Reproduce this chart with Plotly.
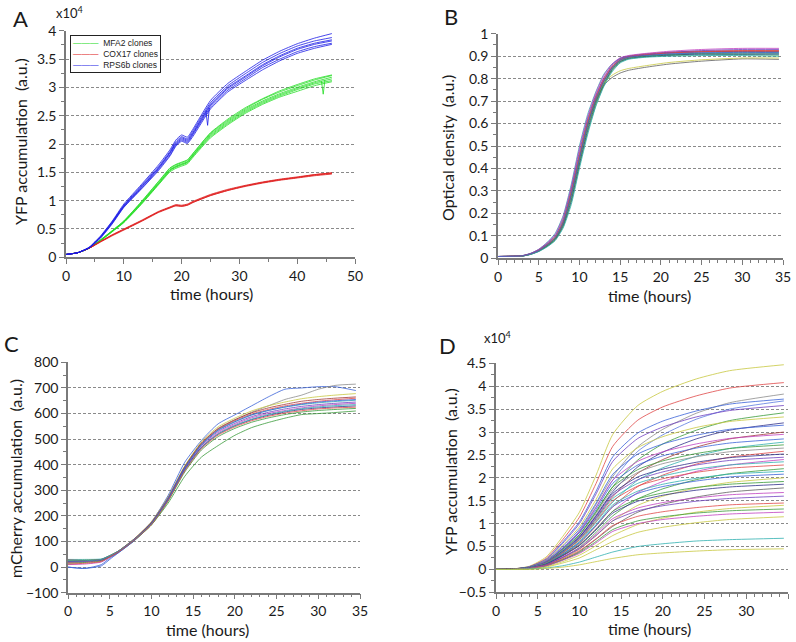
import plotly.graph_objects as go

# ---------------- Panel A : YFP accumulation (x10^4) of three promoter clones ----------------
time_A = [0, 2, 4, 6, 8, 10, 13, 16, 18, 19, 20, 21, 22, 25, 28, 31, 34, 37, 40, 43, 46]
mfa2_clones = [
    [0.05, 0.08, 0.16, 0.30, 0.46, 0.62, 0.95, 1.30, 1.54, 1.60, 1.64, 1.68, 1.80, 2.15, 2.38, 2.58, 2.74, 2.87, 2.98, 3.08, 3.15],
    [0.05, 0.08, 0.16, 0.31, 0.47, 0.64, 0.97, 1.33, 1.57, 1.63, 1.67, 1.71, 1.83, 2.19, 2.42, 2.62, 2.79, 2.92, 3.03, 3.13, 3.21],
    [0.05, 0.08, 0.16, 0.29, 0.45, 0.61, 0.93, 1.28, 1.51, 1.57, 1.61, 1.65, 1.77, 2.11, 2.34, 2.54, 2.70, 2.83, 2.93, 3.03, 3.10],
    [0.05, 0.08, 0.16, 0.30, 0.46, 0.63, 0.96, 1.31, 1.55, 1.61, 1.65, 1.69, 1.81, 2.17, 2.40, 2.60, 2.76, 2.89, 3.00, 3.10, 3.18],
    [0.05, 0.08, 0.16, 0.30, 0.46, 0.62, 0.94, 1.29, 1.53, 1.59, 1.63, 1.67, 1.79, 2.13, 2.36, 2.56, 2.72, 2.85, 2.96, 3.06, 3.12],
    [0.05, 0.08, 0.16, 0.31, 0.47, 0.64, 0.98, 1.34, 1.58, 1.64, 1.68, 1.72, 1.84, 2.20, 2.44, 2.64, 2.80, 2.94, 3.05, 3.15, 3.22],
]
cox17_clones = [
    [0.05, 0.08, 0.16, 0.28, 0.39, 0.49, 0.64, 0.80, 0.88, 0.92, 0.91, 0.93, 0.98, 1.10, 1.19, 1.26, 1.32, 1.37, 1.41, 1.45, 1.48],
    [0.05, 0.08, 0.16, 0.28, 0.40, 0.50, 0.65, 0.81, 0.89, 0.93, 0.92, 0.94, 0.99, 1.11, 1.20, 1.27, 1.33, 1.38, 1.42, 1.46, 1.49],
    [0.05, 0.08, 0.16, 0.27, 0.38, 0.48, 0.63, 0.79, 0.87, 0.91, 0.90, 0.92, 0.97, 1.09, 1.18, 1.25, 1.31, 1.36, 1.40, 1.44, 1.47],
    [0.05, 0.08, 0.16, 0.28, 0.39, 0.49, 0.64, 0.80, 0.88, 0.91, 0.90, 0.92, 0.97, 1.09, 1.18, 1.26, 1.32, 1.37, 1.41, 1.46, 1.49],
]
rps6b_clones = [
    [0.05, 0.08, 0.17, 0.36, 0.62, 0.91, 1.24, 1.58, 1.85, 2.02, 2.11, 2.07, 2.21, 2.70, 3.00, 3.20, 3.40, 3.56, 3.69, 3.78, 3.84],
    [0.05, 0.08, 0.18, 0.38, 0.64, 0.94, 1.28, 1.63, 1.90, 2.07, 2.16, 2.12, 2.27, 2.77, 3.07, 3.28, 3.48, 3.64, 3.77, 3.87, 3.95],
    [0.05, 0.08, 0.17, 0.35, 0.60, 0.89, 1.21, 1.55, 1.81, 1.98, 2.07, 2.03, 2.17, 2.65, 2.95, 3.15, 3.35, 3.50, 3.63, 3.72, 3.78],
    [0.05, 0.08, 0.17, 0.37, 0.63, 0.92, 1.26, 1.60, 1.87, 2.04, 2.13, 2.09, 2.24, 2.73, 3.03, 3.24, 3.44, 3.60, 3.73, 3.82, 3.88],
    [0.05, 0.08, 0.17, 0.36, 0.61, 0.90, 1.23, 1.57, 1.84, 2.00, 2.09, 2.05, 2.19, 2.68, 2.98, 3.18, 3.38, 3.54, 3.67, 3.76, 3.82],
    [0.05, 0.08, 0.16, 0.34, 0.59, 0.88, 1.20, 1.53, 1.79, 1.96, 2.05, 2.01, 2.14, 2.62, 2.92, 3.12, 3.31, 3.47, 3.60, 3.69, 3.76],
]
spike_rps6b_t = [24.2, 24.5, 24.8]
spike_rps6b_y = [2.58, 2.33, 2.64]
spike_mfa2_t = [44.2, 44.5, 44.8]
spike_mfa2_y = [3.11, 2.88, 3.13]
legend_names = ["MFA2 clones", "COX17 clones", "RPS6b clones"]

# ---------------- Panel B : optical density ----------------
time_B = [0, 3, 4, 5, 6, 7, 8, 9, 10, 11, 12, 13, 14, 15, 16, 18, 21, 25, 30, 34.5]
od_wells = [
    [0.008, 0.011, 0.020, 0.035, 0.060, 0.090, 0.160, 0.290, 0.450, 0.600, 0.710, 0.790, 0.850, 0.885, 0.898, 0.905, 0.913, 0.918, 0.920, 0.920],
    [0.008, 0.010, 0.018, 0.031, 0.052, 0.080, 0.140, 0.250, 0.410, 0.560, 0.680, 0.770, 0.835, 0.873, 0.888, 0.897, 0.903, 0.906, 0.907, 0.905],
    [0.008, 0.011, 0.020, 0.036, 0.062, 0.095, 0.165, 0.300, 0.460, 0.610, 0.720, 0.800, 0.855, 0.888, 0.900, 0.910, 0.918, 0.923, 0.925, 0.925],
    [0.008, 0.012, 0.022, 0.040, 0.070, 0.110, 0.190, 0.330, 0.500, 0.640, 0.740, 0.820, 0.865, 0.890, 0.897, 0.903, 0.908, 0.910, 0.910, 0.910],
    [0.008, 0.012, 0.022, 0.040, 0.068, 0.105, 0.185, 0.320, 0.490, 0.630, 0.735, 0.815, 0.865, 0.893, 0.903, 0.912, 0.922, 0.930, 0.935, 0.935],
    [0.008, 0.010, 0.018, 0.032, 0.054, 0.083, 0.145, 0.260, 0.420, 0.570, 0.690, 0.775, 0.840, 0.876, 0.890, 0.898, 0.905, 0.910, 0.910, 0.910],
    [0.008, 0.011, 0.020, 0.035, 0.060, 0.090, 0.160, 0.290, 0.450, 0.600, 0.700, 0.770, 0.805, 0.825, 0.837, 0.850, 0.865, 0.878, 0.888, 0.886],
    [0.008, 0.011, 0.020, 0.036, 0.062, 0.095, 0.170, 0.300, 0.460, 0.610, 0.710, 0.780, 0.815, 0.835, 0.845, 0.857, 0.872, 0.884, 0.892, 0.892],
    [0.008, 0.011, 0.019, 0.034, 0.058, 0.088, 0.155, 0.280, 0.440, 0.590, 0.705, 0.790, 0.848, 0.882, 0.895, 0.905, 0.915, 0.920, 0.922, 0.922],
    [0.008, 0.010, 0.018, 0.032, 0.055, 0.085, 0.150, 0.270, 0.430, 0.580, 0.695, 0.780, 0.842, 0.878, 0.892, 0.900, 0.908, 0.913, 0.915, 0.915],
    [0.008, 0.012, 0.021, 0.038, 0.065, 0.100, 0.175, 0.310, 0.475, 0.620, 0.725, 0.805, 0.860, 0.890, 0.900, 0.908, 0.917, 0.925, 0.930, 0.930],
    [0.008, 0.010, 0.017, 0.030, 0.050, 0.078, 0.135, 0.240, 0.400, 0.550, 0.675, 0.765, 0.830, 0.870, 0.886, 0.895, 0.900, 0.903, 0.903, 0.900],
    [0.008, 0.011, 0.020, 0.035, 0.060, 0.092, 0.162, 0.295, 0.455, 0.605, 0.715, 0.795, 0.852, 0.884, 0.897, 0.906, 0.914, 0.920, 0.924, 0.924],
    [0.008, 0.011, 0.020, 0.034, 0.059, 0.090, 0.158, 0.285, 0.445, 0.595, 0.708, 0.788, 0.848, 0.882, 0.895, 0.903, 0.910, 0.915, 0.917, 0.916],
]

# ---------------- Panel C : mCherry accumulation ----------------
time_C = [0, 2, 4, 5, 6, 8, 10, 12, 14, 16, 18, 20, 22, 24, 26, 28, 30, 32, 34.5]
mcherry_wells = [
    [0, -5, 10, 35, 55, 105, 175, 280, 410, 495, 560, 595, 630, 665, 695, 700, 705, 705, 690],
    [25, 25, 30, 45, 62, 112, 178, 275, 395, 485, 540, 575, 605, 630, 655, 672, 695, 710, 715],
    [25, 25, 30, 42, 58, 105, 165, 250, 355, 430, 475, 515, 545, 565, 582, 596, 600, 604, 610],
    [25, 28, 30, 45, 62, 112, 175, 272, 395, 490, 548, 582, 610, 630, 645, 658, 666, 672, 678],
    [18, 20, 26, 40, 58, 108, 168, 265, 388, 482, 538, 572, 598, 616, 630, 640, 648, 654, 660],
    [30, 30, 32, 45, 62, 110, 172, 268, 390, 480, 535, 568, 594, 612, 625, 635, 642, 647, 652],
    [10, 12, 20, 38, 58, 108, 168, 262, 380, 470, 525, 557, 583, 600, 612, 622, 630, 635, 640],
    [22, 24, 28, 42, 60, 110, 172, 265, 382, 468, 520, 552, 576, 593, 606, 616, 622, 626, 630],
    [15, 18, 24, 40, 58, 106, 165, 258, 372, 458, 510, 542, 566, 583, 596, 606, 612, 616, 620],
    [28, 26, 30, 44, 62, 112, 174, 270, 392, 485, 542, 576, 603, 622, 636, 648, 655, 660, 665],
    [20, 22, 28, 42, 60, 110, 170, 265, 385, 475, 530, 562, 588, 605, 618, 628, 635, 640, 645],
    [0, -5, 5, 30, 55, 105, 170, 268, 388, 478, 535, 568, 595, 612, 626, 637, 645, 650, 655],
    [25, 25, 30, 44, 61, 110, 168, 260, 378, 466, 520, 553, 578, 596, 609, 619, 626, 631, 635],
    [12, 15, 22, 40, 58, 107, 166, 260, 376, 463, 516, 548, 572, 589, 602, 611, 618, 622, 625],
]

# ---------------- Panel D : YFP accumulation (x10^4), library of promoters ----------------
time_D = [0, 2, 4, 6, 8, 10, 12, 14, 17, 20, 24, 28, 34.5]
yfp_wells = [
    [0, 0.01, 0.07, 0.27, 0.72, 1.25, 2.06, 2.95, 3.58, 3.89, 4.16, 4.34, 4.47],
    [0, 0.01, 0.06, 0.24, 0.65, 1.14, 1.88, 2.69, 3.26, 3.55, 3.79, 3.96, 4.08],
    [0, 0.01, 0.05, 0.17, 0.46, 0.84, 1.42, 2.03, 2.68, 3.06, 3.41, 3.64, 3.83],
    [0, 0.01, 0.06, 0.22, 0.60, 1.04, 1.71, 2.46, 2.98, 3.24, 3.46, 3.61, 3.72],
    [0, 0.01, 0.04, 0.17, 0.44, 0.81, 1.36, 1.95, 2.58, 2.94, 3.28, 3.50, 3.68],
    [0, 0.01, 0.05, 0.21, 0.57, 1.00, 1.65, 2.36, 2.86, 3.11, 3.33, 3.47, 3.58],
    [0, 0.01, 0.04, 0.15, 0.41, 0.75, 1.27, 1.81, 2.39, 2.74, 3.04, 3.25, 3.42],
    [0, 0.01, 0.05, 0.20, 0.53, 0.93, 1.53, 2.20, 2.66, 2.90, 3.10, 3.23, 3.33],
    [0, 0.01, 0.04, 0.14, 0.38, 0.70, 1.18, 1.70, 2.24, 2.56, 2.85, 3.04, 3.20],
    [0, 0.01, 0.05, 0.19, 0.50, 0.88, 1.45, 2.08, 2.52, 2.74, 2.93, 3.06, 3.15],
    [0, 0.01, 0.04, 0.14, 0.36, 0.66, 1.11, 1.59, 2.10, 2.40, 2.67, 2.85, 3.00],
    [0, 0.01, 0.04, 0.18, 0.47, 0.83, 1.36, 1.95, 2.36, 2.57, 2.74, 2.86, 2.95],
    [0, 0.01, 0.04, 0.17, 0.46, 0.80, 1.31, 1.88, 2.28, 2.48, 2.65, 2.76, 2.85],
    [0, 0.01, 0.03, 0.13, 0.33, 0.61, 1.03, 1.47, 1.95, 2.22, 2.47, 2.64, 2.78],
    [0, 0.01, 0.04, 0.16, 0.44, 0.76, 1.25, 1.80, 2.18, 2.37, 2.53, 2.64, 2.72],
    [0, 0.01, 0.04, 0.16, 0.42, 0.74, 1.22, 1.75, 2.12, 2.31, 2.46, 2.57, 2.65],
    [0, 0.01, 0.03, 0.12, 0.31, 0.57, 0.95, 1.37, 1.81, 2.06, 2.30, 2.45, 2.58],
    [0, 0.01, 0.04, 0.15, 0.40, 0.71, 1.16, 1.66, 2.02, 2.19, 2.34, 2.44, 2.52],
    [0, 0.00, 0.04, 0.15, 0.39, 0.69, 1.13, 1.62, 1.96, 2.13, 2.28, 2.38, 2.45],
    [0, 0.00, 0.03, 0.11, 0.29, 0.53, 0.89, 1.27, 1.68, 1.92, 2.14, 2.28, 2.40],
    [0, 0.00, 0.04, 0.14, 0.38, 0.66, 1.08, 1.55, 1.88, 2.04, 2.19, 2.28, 2.35],
    [0, 0.00, 0.03, 0.14, 0.36, 0.64, 1.05, 1.50, 1.82, 1.98, 2.12, 2.21, 2.28],
    [0, 0.00, 0.03, 0.10, 0.26, 0.48, 0.81, 1.17, 1.54, 1.76, 1.96, 2.09, 2.20],
    [0, 0.00, 0.03, 0.13, 0.34, 0.60, 0.98, 1.41, 1.71, 1.86, 1.99, 2.08, 2.14],
    [0, 0.00, 0.03, 0.12, 0.33, 0.58, 0.96, 1.37, 1.66, 1.81, 1.93, 2.02, 2.08],
    [0, 0.00, 0.02, 0.09, 0.24, 0.44, 0.74, 1.06, 1.40, 1.60, 1.78, 1.90, 2.00],
    [0, 0.00, 0.03, 0.12, 0.31, 0.54, 0.88, 1.27, 1.54, 1.67, 1.79, 1.86, 1.92],
    [0, 0.00, 0.03, 0.11, 0.30, 0.52, 0.86, 1.23, 1.49, 1.62, 1.73, 1.80, 1.86],
    [0, 0.00, 0.02, 0.08, 0.21, 0.39, 0.66, 0.94, 1.25, 1.42, 1.58, 1.69, 1.78],
    [0, 0.00, 0.03, 0.10, 0.27, 0.47, 0.77, 1.11, 1.34, 1.46, 1.56, 1.63, 1.68],
    [0, 0.00, 0.02, 0.10, 0.26, 0.45, 0.74, 1.06, 1.28, 1.39, 1.49, 1.55, 1.60],
    [0, 0.00, 0.02, 0.09, 0.23, 0.41, 0.67, 0.96, 1.16, 1.26, 1.35, 1.41, 1.45],
    [0, 0.00, 0.02, 0.06, 0.17, 0.31, 0.52, 0.74, 0.98, 1.12, 1.25, 1.33, 1.40],
    [0, 0.00, 0.02, 0.08, 0.21, 0.37, 0.61, 0.87, 1.06, 1.15, 1.23, 1.28, 1.32],
    [0, 0.00, 0.02, 0.08, 0.20, 0.35, 0.58, 0.83, 1.00, 1.09, 1.16, 1.21, 1.25],
    [0, 0.00, 0.01, 0.05, 0.14, 0.25, 0.43, 0.61, 0.81, 0.92, 1.02, 1.09, 1.15],
    [0, 0.00, 0.01, 0.03, 0.08, 0.16, 0.27, 0.38, 0.50, 0.56, 0.62, 0.65, 0.68],
    [0, 0.00, 0.00, 0.02, 0.05, 0.10, 0.17, 0.24, 0.32, 0.36, 0.40, 0.43, 0.45],
]

# ---------------- styles ----------------
FONT = "Lato, 'Open Sans', sans-serif"
GROUP_COLORS = ["#22dd22", "#e02020", "#1a1ae6"]
C_BLUE, C_GREEN, C_RED, C_CYAN = "#3a62d8", "#3a9a3a", "#e04848", "#30b0b0"
C_MAG, C_YEL, C_GREY, C_NAVY = "#c040c0", "#c8c840", "#8c8c8c", "#30308a"
C_DRED, C_PURP, C_DGREY = "#a03838", "#7040c0", "#606060"
colors_B = [C_BLUE, C_GREEN, C_RED, C_CYAN, C_MAG, C_NAVY, C_DGREY, C_YEL,
            C_DRED, C_GREEN, C_PURP, C_CYAN, C_RED, C_BLUE]
colors_C = [C_BLUE, C_GREY, C_GREEN, C_YEL, C_RED, C_CYAN, C_MAG, C_NAVY,
            C_GREEN, C_DRED, C_PURP, C_BLUE, C_CYAN, C_RED]
colors_D = [C_YEL, C_RED, C_GREY, C_BLUE, "#5a7ae0", C_PURP, C_GREEN, C_YEL,
            C_NAVY, C_BLUE, C_DRED, C_MAG, C_BLUE, C_CYAN, C_GREEN, C_GREY,
            C_RED, C_NAVY, C_PURP, C_MAG, C_CYAN, C_RED, C_GREEN, C_CYAN,
            C_BLUE, C_YEL, C_GREEN, C_NAVY, C_DGREY, C_MAG, C_PURP, C_RED,
            C_YEL, C_GREEN, C_MAG, C_YEL, C_CYAN, C_YEL]

fig = go.Figure()


def add_lines(t, series, colors, xa, ya, width=0.8, smoothing=0.6):
    for i, ys in enumerate(series):
        fig.add_trace(go.Scatter(
            x=t, y=ys, mode="lines", xaxis=xa, yaxis=ya,
            line=dict(color=colors[i % len(colors)], width=width, shape="spline", smoothing=smoothing),
            showlegend=False, hoverinfo="skip"))


# Panel A
for grp, clr in zip([mfa2_clones, cox17_clones, rps6b_clones], GROUP_COLORS):
    add_lines(time_A, grp, [clr], "x", "y", width=0.8, smoothing=0.45)
fig.add_trace(go.Scatter(x=spike_rps6b_t, y=spike_rps6b_y, mode="lines", xaxis="x", yaxis="y",
                         line=dict(color=GROUP_COLORS[2], width=0.8), showlegend=False, hoverinfo="skip"))
fig.add_trace(go.Scatter(x=spike_mfa2_t, y=spike_mfa2_y, mode="lines", xaxis="x", yaxis="y",
                         line=dict(color=GROUP_COLORS[0], width=0.8), showlegend=False, hoverinfo="skip"))

# Panels B, C, D
add_lines(time_B, od_wells, colors_B, "x2", "y2")
add_lines(time_C, mcherry_wells, colors_C, "x3", "y3")
add_lines(time_D, yfp_wells, colors_D, "x4", "y4")

W, H = 796, 642


def xd(a, b):
    return [a / W, b / W]


def yd(top, bottom):
    return [1 - bottom / H, 1 - top / H]


AXC = "#7a7a7a"
TICKF = dict(family=FONT, size=14, color="#1a1a1a")


def xaxis(domain, anchor, rng, dtick, minor_dtick):
    return dict(domain=domain, anchor=anchor, range=rng, dtick=dtick, tick0=0,
                showline=True, linecolor=AXC, linewidth=1.5, ticks="outside",
                ticklen=5, tickwidth=1.2, tickcolor=AXC, showgrid=False, zeroline=False,
                tickfont=TICKF, automargin=False,
                minor=dict(dtick=minor_dtick, ticks="outside", ticklen=3, tickcolor=AXC, showgrid=False))


def yaxis(domain, anchor, rng, dtick, minor_dtick):
    return dict(domain=domain, anchor=anchor, range=rng, dtick=dtick, tick0=0,
                showline=True, linecolor=AXC, linewidth=1.5, ticks="outside",
                ticklen=5, tickwidth=1.2, tickcolor=AXC, showgrid=True, gridcolor="#8a8a8a",
                gridwidth=1, griddash="3px,2px", zeroline=False, tickfont=TICKF, automargin=False,
                minor=dict(dtick=minor_dtick, ticks="outside", ticklen=3, tickcolor=AXC, showgrid=False))


fig.update_layout(
    width=W, height=H, margin=dict(l=0, r=0, t=0, b=0),
    paper_bgcolor="white", plot_bgcolor="white", showlegend=False,
    xaxis=xaxis(xd(66, 355), "y", [0, 50], 10, 5),
    yaxis=yaxis(yd(30.7, 257.3), "x", [0, 4.001], 0.5, 0.25),
    xaxis2=xaxis(xd(498, 783), "y2", [0, 35], 5, 1),
    yaxis2=yaxis(yd(33.7, 258.3), "x2", [0, 1.0003], 0.1, 0.05),
    xaxis3=xaxis(xd(68, 360), "y3", [0, 35], 5, 1),
    yaxis3=yaxis(yd(362.3, 592.7), "x3", [-100, 800.3], 100, 50),
    xaxis4=xaxis(xd(496, 788), "y4", [0, 35], 5, 1),
    yaxis4=yaxis(yd(363.3, 592.3), "x4", [-0.5, 4.5015], 0.5, 0.25),
)

ann = []


def text(x, y, s, size, angle=0, xanchor="center", family=FONT, **kw):
    ann.append(dict(x=x / W, y=1 - y / H, xref="paper", yref="paper", text=s, showarrow=False,
                    textangle=angle, xanchor=xanchor, yanchor=kw.pop("yanchor", "middle"),
                    font=dict(family=family, size=size, color="#1a1a1a"), **kw))


# panel letters
text(20, 18, "A", 22)
text(451, 17, "B", 22)
text(11, 343, "C", 22)
text(447, 345, "D", 22)
# multipliers
text(54, 12, "x10<sup>4</sup>", 13, xanchor="left")
text(482, 337, "x10<sup>4</sup>", 13, xanchor="left")
# axis titles
text(20, 142, "YFP accumulation  (a.u.)", 16, angle=-90)
text(211, 293, "time (hours)", 16)
text(447, 148, "Optical density  (a.u.)", 16, angle=-90)
text(649, 295, "time (hours)", 16)
text(15, 479, "mCherry accumulation  (a.u.)", 16, angle=-90)
text(207, 629, "time (hours)", 16)
text(450, 471, "YFP accumulation  (a.u.)", 16, angle=-90)
text(649, 628, "time (hours)", 16)

# legend box of panel A
legend_lines = "<br>".join(
    "<span style='color:%s'>\u2014\u2014\u2014</span><span style='color:#222222'>  %s</span>" % (c, n)
    for c, n in zip(GROUP_COLORS, legend_names))
text(70, 35, legend_lines, 8.5, xanchor="left", yanchor="top",
     family="Liberation Sans, Arial, sans-serif", align="left",
     bordercolor="#222", borderwidth=1, borderpad=2, bgcolor="white")

fig.update_layout(annotations=ann)

fig.write_html("out.html", config={"displayModeBar": False},
               post_script="document.body.style.margin='0px';")
